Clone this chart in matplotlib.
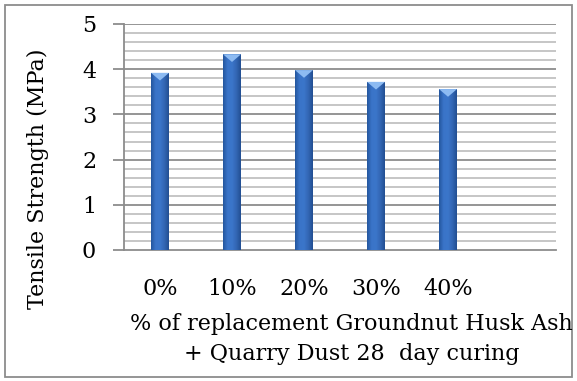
import numpy as np
import matplotlib.pyplot as plt
from matplotlib.colors import LinearSegmentedColormap
from matplotlib.patches import Polygon, Rectangle

# data
categories = ['0%', '10%', '20%', '30%', '40%', '']
strength = [3.92, 4.33, 3.98, 3.72, 3.56, np.nan]

xlabel_lines = ['% of replacement Groundnut Husk Ash', '+ Quarry Dust 28  day curing']
ylabel = 'Tensile Strength (MPa)'

plt.rcParams['font.family'] = ['DejaVu Serif']
fs = 16

fig = plt.figure(figsize=(5.77, 3.81), dpi=100)
W, H = 577, 381
ax = fig.add_axes([124 / W, 1 - 250 / H, 432 / W, 226 / H])

x = np.arange(len(categories))
bar_w = 0.25

# grid: minor every 0.2, major every 1
for v in np.arange(0.2, 5.0, 0.2):
    if abs(v - round(v)) < 1e-6:
        continue
    ax.axhline(v, color='#bcbcbc', lw=1.2, zorder=0)
for v in range(1, 6):
    ax.axhline(v, color='#8c8c8c', lw=1.3, zorder=0)

# bars with a horizontal gradient
cmap = LinearSegmentedColormap.from_list('bar', ['#24569e', '#3a74c8', '#3b76ca', '#3366b4', '#224f92'])
grad = np.linspace(0, 1, 64).reshape(1, -1)
for xi, v in zip(x, strength):
    if np.isnan(v):
        continue
    left = xi - bar_w / 2
    rect = Rectangle((left, 0), bar_w, v, facecolor='#3369b6', edgecolor='none', zorder=2)
    ax.add_patch(rect)
    im = ax.imshow(grad, cmap=cmap, extent=[left, left + bar_w, 0, v], aspect='auto', zorder=3)
    im.set_clip_path(rect)
    tri = Polygon([[left, v], [left + bar_w, v], [xi, v - 0.17]], closed=True,
                  facecolor='#8dbbf2', edgecolor='none', zorder=4)
    ax.add_patch(tri)
ax.set_xlim(-0.5, len(categories) - 0.5)
ax.set_ylim(0, 5)

for s in ['top', 'right']:
    ax.spines[s].set_visible(False)
for s in ['left', 'bottom']:
    ax.spines[s].set_color('#8c8c8c')
    ax.spines[s].set_linewidth(1.3)

ax.set_yticks(range(0, 6))
ax.tick_params(axis='y', length=8, width=1.3, color='#8c8c8c', labelsize=fs, pad=12)
ax.set_xticks(x)
ax.set_xticklabels(categories)
ax.tick_params(axis='x', length=0, labelsize=fs, pad=20)

fig.text(38 / W, 1 - 179 / H, ylabel, rotation=90, ha='center', va='center', fontsize=fs)
fig.text(351 / W, 1 - 324 / H, xlabel_lines[0], ha='center', va='center', fontsize=fs)
fig.text(352 / W, 1 - 354 / H, xlabel_lines[1], ha='center', va='center', fontsize=fs)

# outer frame
fig.patches.append(Rectangle((5 / W, 4 / H), 567 / W, 372 / H, transform=fig.transFigure,
                             fill=False, edgecolor='#8c8c8c', lw=1.3))

fig.savefig('out.png', dpi=100)
